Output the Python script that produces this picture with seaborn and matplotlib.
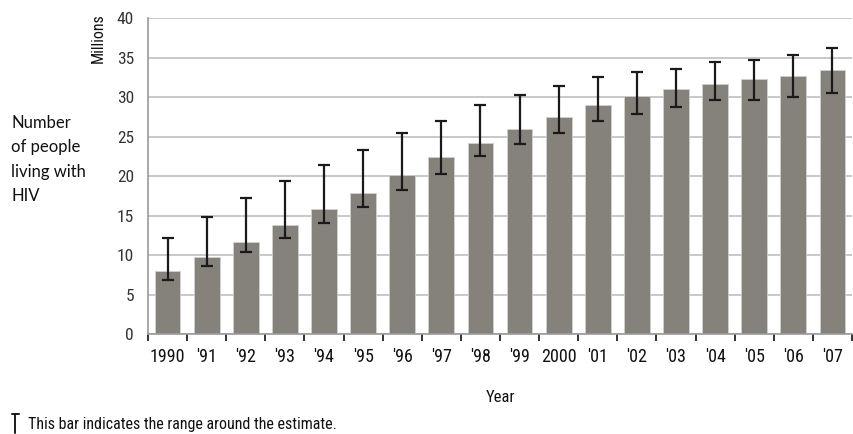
import pandas as pd
import seaborn as sns
import matplotlib.pyplot as plt
from matplotlib import font_manager
from matplotlib.lines import Line2D

# Data (millions)
years = ['1990', "'91", "'92", "'93", "'94", "'95", "'96", "'97", "'98",
         "'99", '2000', "'01", "'02", "'03", "'04", "'05", "'06", "'07"]
estimate = [8.0, 9.7, 11.6, 13.8, 15.8, 17.9, 20.2, 22.4, 24.2,
            26.0, 27.5, 29.0, 30.1, 31.0, 31.7, 32.3, 32.7, 33.4]
low = [6.8, 8.6, 10.4, 12.2, 14.1, 16.1, 18.3, 20.3, 22.5,
       24.1, 25.4, 27.0, 27.9, 28.7, 29.6, 29.6, 30.0, 30.5]
high = [12.2, 14.8, 17.2, 19.4, 21.4, 23.3, 25.4, 27.0, 29.0,
        30.3, 31.4, 32.5, 33.2, 33.6, 34.4, 34.7, 35.3, 36.2]

df = pd.DataFrame({'year': years, 'people': estimate, 'low': low, 'high': high})

sns.set_theme(style='white')


def pick_font(names):
    for n in names:
        try:
            font_manager.findfont(n, fallback_to_default=False)
            return n
        except Exception:
            pass
    return 'DejaVu Sans'


narrow = pick_font(['Liberation Sans Narrow', 'Roboto Condensed', 'Liberation Sans'])
plt.rcParams['font.family'] = [narrow, 'DejaVu Sans']

bar_color = '#85827c'
grid_color = '#c4c4c4'

fig = plt.figure(figsize=(8.54, 4.34), dpi=100)
ax = fig.add_axes([0.1733, 0.2304, 0.8244, 0.7276])

sns.barplot(data=df, x='year', y='people', color=bar_color, saturation=1,
            width=0.66, edgecolor='#d0d0d0', linewidth=0.6, ax=ax, zorder=2)

xpos = range(len(df))
ax.errorbar(xpos, df['people'],
            yerr=[df['people'] - df['low'], df['high'] - df['people']],
            fmt='none', ecolor='#1a1a1a', elinewidth=1.6, capsize=4,
            capthick=1.6, zorder=3)

ax.set_ylim(0, 40)
ax.set_xlim(-0.5, len(df) - 0.5)
ax.set_yticks(range(0, 41, 5))
ax.yaxis.grid(True, color=grid_color, linewidth=1.3, zorder=0)
ax.set_axisbelow(True)

for side in ['top', 'right']:
    ax.spines[side].set_visible(False)
ax.spines['left'].set_color('#9a9a9a')
ax.spines['bottom'].set_color('#9a9a9a')
ax.spines['left'].set_linewidth(1.2)
ax.spines['bottom'].set_linewidth(1.2)

# tick marks sit between the bars
ax.set_xticks([i - 0.5 for i in range(len(df) + 1)], minor=True)
ax.tick_params(axis='x', which='minor', length=5, width=1.2, color='#111111',
               direction='out', bottom=True)
ax.tick_params(axis='x', which='major', length=0, pad=10, labelsize=13,
               labelcolor='#111111')
ax.tick_params(axis='y', which='major', length=0, pad=10, labelsize=12.5,
               labelcolor='#333333')

ax.set_xlabel('Year', fontsize=12, labelpad=17, color='#111111')
ax.set_ylabel('')

fig.text(0.115, 0.97, 'Millions', rotation=90, ha='center', va='top',
         fontsize=11.5, color='#111111')
fig.text(0.013, 0.735, 'Number\nof people\nliving with\nHIV', ha='left', va='top',
         fontsize=12, linespacing=1.65, color='#111111',
         family=['Lato', 'DejaVu Sans'])

# footnote with an error-bar symbol
fig.add_artist(Line2D([0.0176, 0.0176], [0.003, 0.045], color='#1a1a1a', lw=1.4))
fig.add_artist(Line2D([0.0135, 0.0217], [0.045, 0.045], color='#1a1a1a', lw=1.4))
fig.text(0.033, 0.022, 'This bar indicates the range around the estimate.',
         ha='left', va='center', fontsize=11.5, color='#111111')

fig.savefig('out.png', dpi=100)
plt.close(fig)
